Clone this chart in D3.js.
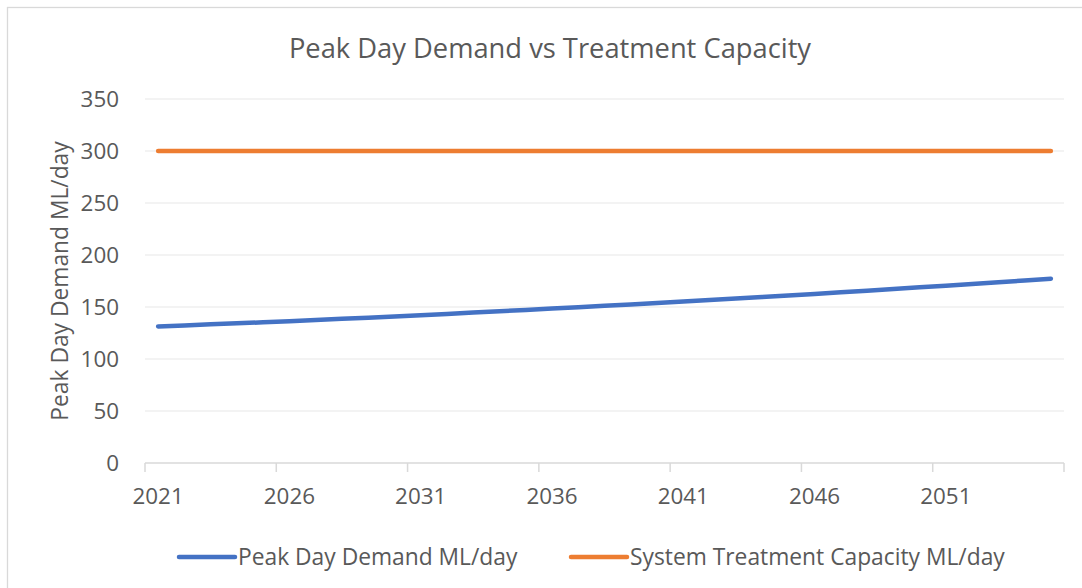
<!DOCTYPE html>
<html><head><meta charset="utf-8">
<script src="https://cdn.jsdelivr.net/npm/d3@7/dist/d3.min.js"></script>
<style>html,body{margin:0;padding:0;background:#fff;overflow:hidden}</style>
</head><body>
<svg id="chart" width="1082" height="588"></svg>
<script>
const years = ["2021","2022","2023","2024","2025","2026","2027","2028","2029","2030","2031","2032","2033","2034","2035","2036","2037","2038","2039","2040","2041","2042","2043","2044","2045","2046","2047","2048","2049","2050","2051","2052","2053","2054","2055"];
const peakDemand = [131.3,132.3,133.3,134.3,135.3,136.4,137.5,138.6,139.7,140.9,142.1,143.3,144.6,145.9,147.2,148.5,149.8,151.1,152.5,153.9,155.3,156.7,158.1,159.6,161.1,162.6,164.1,165.7,167.3,168.9,170.5,172.1,173.8,175.5,177.2];
const treatmentCapacity = [300,300,300,300,300,300,300,300,300,300,300,300,300,300,300,300,300,300,300,300,300,300,300,300,300,300,300,300,300,300,300,300,300,300,300];
const yTicks = [0,50,100,150,200,250,300,350];
const seriesNames = ["Peak Day Demand ML/day","System Treatment Capacity ML/day"];
const seriesColors = ["#4472C4","#ED7D31"];
const chartTitle = "Peak Day Demand vs Treatment Capacity";
const yTitle = "Peak Day Demand ML/day";

const font = "'Open Sans', 'Noto Sans', sans-serif";
const svg = d3.select("#chart");
svg.append("rect").attr("x",7.5).attr("y",7.5).attr("width",1100).attr("height",600)
  .attr("fill","#fff").attr("stroke","#d9d9d9").attr("stroke-width",1.3);

const L=145, R=1064, T=99, B=463;
const x = d3.scaleBand().domain(years).range([L,R]).paddingInner(0).paddingOuter(0);
const y = d3.scaleLinear().domain([0,350]).range([B,T]);

// gridlines
svg.append("g").selectAll("line").data(yTicks.filter(d=>d>0)).join("line")
  .attr("x1",L).attr("x2",R).attr("y1",d=>y(d)).attr("y2",d=>y(d))
  .attr("stroke","#efefef").attr("stroke-width",1.5);

// y axis labels
const yAxis = d3.axisLeft(y).tickValues(yTicks).tickSize(0).tickPadding(26);
const gy = svg.append("g").attr("transform",`translate(${L},0)`).call(yAxis);
gy.select(".domain").remove();
gy.selectAll("text").attr("font-family",font).attr("font-size",22.4).attr("fill","#595959");

// x axis
const labelYears = years.filter((d,i)=>i%5===0);
const gx = svg.append("g").attr("transform",`translate(0,${B})`)
  .call(d3.axisBottom(x).tickValues(labelYears).tickSize(0).tickPadding(25));
gx.select(".domain").remove();
gx.selectAll("text").attr("font-family",font).attr("font-size",22.4).attr("fill","#595959");
svg.append("line").attr("x1",L).attr("x2",R).attr("y1",B).attr("y2",B).attr("stroke","#d9d9d9").attr("stroke-width",1.5);
const tickPos = years.filter((d,i)=>i%5===0).map(d=>x(d)).concat([x.range()[1]]);
svg.append("g").selectAll("line").data(tickPos).join("line")
  .attr("x1",d=>d).attr("x2",d=>d).attr("y1",B).attr("y2",B+9).attr("stroke","#d9d9d9").attr("stroke-width",1.5);

// lines
const line = d3.line().x((d,i)=>x(years[i])+x.bandwidth()/2).y(d=>y(d));
[treatmentCapacity, peakDemand].forEach((s,k)=>{
  const idx = k===0?1:0;
  svg.append("path").datum(s).attr("d",line).attr("fill","none")
    .attr("stroke",seriesColors[idx]).attr("stroke-width",4.5).attr("stroke-linecap","round").attr("stroke-linejoin","round");
});

// title
svg.append("text").attr("x",550).attr("y",58).attr("text-anchor","middle")
  .attr("font-family",font).attr("font-size",27.3).attr("fill","#595959").text(chartTitle);

// y title
svg.append("text").attr("transform",`translate(68,${(T+B)/2}) rotate(-90)`).attr("text-anchor","middle")
  .attr("font-family",font).attr("font-size",22.8).attr("fill","#595959").text(yTitle);

// legend
const legX = [179,571];
seriesNames.forEach((n,i)=>{
  svg.append("line").attr("x1",legX[i]).attr("x2",legX[i]+56).attr("y1",557).attr("y2",557)
    .attr("stroke",seriesColors[i]).attr("stroke-width",4.5).attr("stroke-linecap","round");
  svg.append("text").attr("x",legX[i]+59).attr("y",565).attr("font-family",font).attr("font-size",22.8)
    .attr("fill","#595959").text(n);
});
</script>
</body></html>
